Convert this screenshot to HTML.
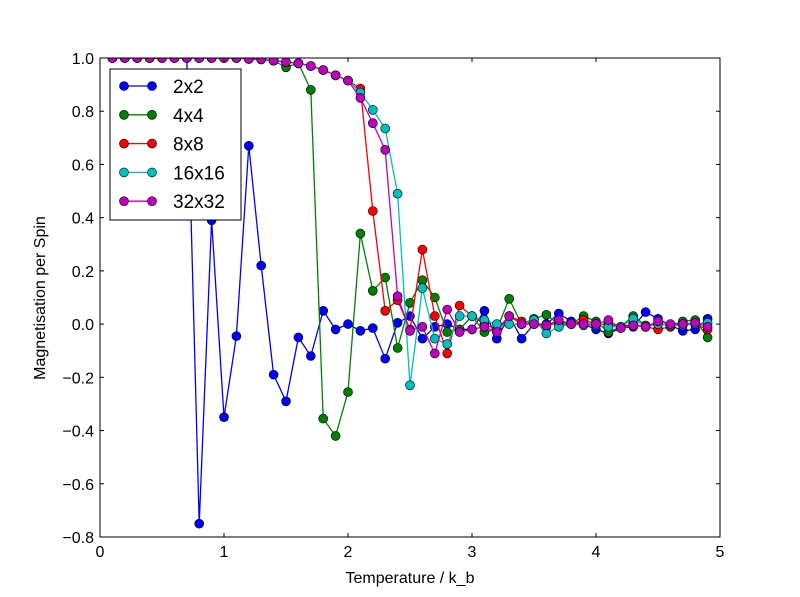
<!DOCTYPE html><html><head><style>body{margin:0;background:#fff}svg{display:block}</style></head><body>
<svg id="s" width="800" height="597" xmlns="http://www.w3.org/2000/svg" font-family="Liberation Sans, DejaVu Sans, sans-serif">
<rect width="800" height="597" fill="#fff"/>
<g id="plot"></g>
<rect x="100" y="58" width="620" height="479" fill="none" stroke="#000" stroke-width="1"/>
<g id="ticks" stroke="#000"></g>
<g id="labels" font-size="16" fill="#000"></g>
<text x="410" y="583" font-size="16" text-anchor="middle">Temperature / k_b</text>
<text transform="translate(45,298) rotate(-90)" font-size="16" text-anchor="middle">Magnetisation per Spin</text>
<rect x="110" y="69" width="131" height="151" fill="#fff" stroke="#000"/>
<g id="leg" font-size="19"></g>
</svg>
<script>
(function(){
const X=v=>100+v*124, Y=v=>324.1-v*266.1;
const topv=[1,1,1,1,1,1,1,1,1,1,1,0.997,0.995,0.99,0.985,0.98,0.97,0.955,0.935,0.915];
function mk(tail,startIdx){let a=topv.slice(0,startIdx);return a.concat(tail);}
const b=[1,1,1,1,1,1,1,-0.75,0.39,-0.35,-0.045,0.67,0.22,-0.19,-0.29,-0.05,-0.12,0.05,-0.02,0.0,-0.025,-0.015,-0.13,0.005,0.03,-0.055,-0.01,0.0,-0.02,-0.02,0.05,-0.055,0.03,-0.055,0.0,0.0,0.04,0.01,0.0,-0.02,-0.035,-0.015,-0.01,0.045,0.02,-0.005,-0.025,-0.02,0.02];
const g=mk([0.99,0.965,0.98,0.88,-0.355,-0.42,-0.255,0.34,0.125,0.175,-0.09,0.08,0.165,0.1,-0.03,-0.02,0.03,-0.03,-0.02,0.095,0.0,0.02,0.035,0.0,0.0,0.03,0.01,-0.03,-0.01,0.03,-0.005,0.0,-0.005,0.01,0.015,-0.05],13);
const r=mk([0.885,0.425,0.05,0.09,-0.02,0.28,0.03,-0.11,0.07,0.03,0.0,-0.02,0.03,0.01,0.0,-0.01,0.01,0.0,0.015,0.0,0.0,-0.01,0.0,-0.01,-0.02,-0.01,0.0,0.0,-0.02],20);
const c=mk([0.87,0.805,0.735,0.49,-0.23,0.135,-0.055,-0.075,0.03,0.03,0.015,0.0,0.0,0.0,0.015,-0.035,-0.01,0.0,-0.005,-0.005,-0.01,-0.01,0.02,-0.01,0.0,-0.005,-0.005,0.0,0.005],20);
const m=mk([0.85,0.755,0.655,0.105,-0.025,-0.01,-0.11,0.055,-0.03,-0.02,-0.01,-0.03,0.03,0.0,0.0,-0.005,0.015,0.0,0.0,0.0,0.015,-0.015,-0.005,-0.01,0.01,0.0,0.0,0.005,-0.01],20);
const series=[[b,'#0000ff'],[g,'#008000'],[r,'#ff0000'],[c,'#00bfbf'],[m,'#bf00bf']];
let h='';
for(const [d,col] of series){
 const pts=d.map((v,i)=>X(0.1*(i+1)).toFixed(1)+','+Y(v).toFixed(1)).join(' ');
 h+=`<polyline points="${pts}" fill="none" stroke="${col}" stroke-width="1.3"/>`;
 d.forEach((v,i)=>{h+=`<circle cx="${X(0.1*(i+1)).toFixed(1)}" cy="${Y(v).toFixed(1)}" r="4.5" fill="${col}" stroke="#000" stroke-width="0.6"/>`;});
}
h=`<svg x="100" y="58" width="620" height="479" overflow="hidden"><g transform="translate(-100,-58)">${h}</g></svg>`;
document.getElementById('plot').innerHTML=h;
let t='',l='';
for(let i=0;i<=5;i++){const x=X(i);t+=`<line x1="${x}" y1="537" x2="${x}" y2="533"/><line x1="${x}" y1="58" x2="${x}" y2="62"/>`;l+=`<text x="${x}" y="557" text-anchor="middle">${i}</text>`;}
for(let k=0;k<=9;k++){const v=-0.8+0.2*k,y=Y(v);t+=`<line x1="100" y1="${y}" x2="104" y2="${y}"/><line x1="720" y1="${y}" x2="716" y2="${y}"/>`;
 const s=(Math.abs(v)<1e-9?'0.0':(v<0?'\u22120.'+Math.round(-v*10):v.toFixed(1)));l+=`<text x="94" y="${y+6}" text-anchor="end">${s}</text>`;}
document.getElementById('ticks').innerHTML=t;document.getElementById('labels').innerHTML=l;
const names=['2x2','4x4','8x8','16x16','32x32'];let lg='';
names.forEach((n,i)=>{const y=86+i*28.8,col=series[i][1];
 lg+=`<line x1="124" y1="${y}" x2="152" y2="${y}" stroke="${col}" stroke-width="1.3"/><circle cx="124" cy="${y}" r="4.5" fill="${col}" stroke="#000" stroke-width="0.6"/><circle cx="152" cy="${y}" r="4.5" fill="${col}" stroke="#000" stroke-width="0.6"/><text x="173" y="${y+7}">${n}</text>`;});
document.getElementById('leg').innerHTML=lg;
})();
</script></body></html>
